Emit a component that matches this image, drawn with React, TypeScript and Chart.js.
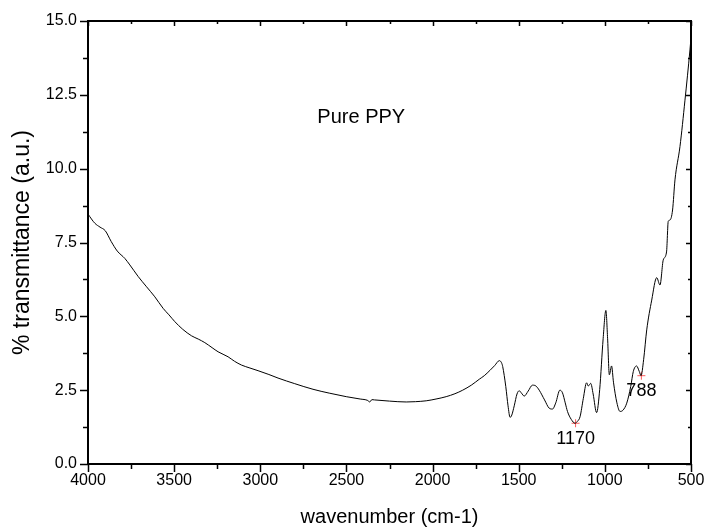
import React, { useEffect, useRef } from "react";
import { Chart, registerables } from "chart.js";

Chart.register(...registerables);

// Spectrum (wavenumber cm-1, % transmittance a.u.)
const wavenumbers = [
  4000, 3960, 3930, 3900, 3865, 3830, 3786, 3757, 3709, 3660, 3612, 3564, 3530, 3496, 3450, 3399, 3360,
  3322, 3280, 3245, 3187, 3150, 3109, 3060, 3013, 2950, 2897, 2800, 2694, 2600, 2501, 2420, 2376, 2365,
  2352, 2337, 2250, 2153, 2100, 2037, 1980, 1921, 1870, 1825, 1775, 1729, 1700, 1667, 1640, 1612, 1600,
  1593, 1575, 1562, 1550, 1540, 1526, 1510, 1497, 1484, 1468, 1445, 1420, 1400, 1381, 1350, 1323, 1304,
  1285, 1261, 1246, 1230, 1217, 1195, 1173, 1160, 1144, 1125, 1106, 1096, 1082, 1068, 1048, 1030, 1010,
  994, 984, 974, 961, 950, 930, 912, 895, 873, 850, 835, 816, 800, 790, 775, 757, 728, 699, 680, 661,
  642, 632, 622, 607, 593, 564, 535, 506, 500,
];
const transmittance = [
  8.46, 8.15, 8.02, 7.9, 7.53, 7.21, 6.96, 6.74, 6.35, 6.0, 5.66, 5.27, 5.05, 4.82, 4.56, 4.34, 4.23,
  4.11, 3.94, 3.8, 3.63, 3.48, 3.35, 3.25, 3.16, 3.03, 2.91, 2.72, 2.53, 2.4, 2.28, 2.2, 2.15, 2.1,
  2.18, 2.17, 2.13, 2.1, 2.11, 2.14, 2.2, 2.28, 2.38, 2.5, 2.67, 2.87, 2.99, 3.17, 3.33, 3.5, 3.43,
  3.3, 2.62, 1.97, 1.58, 1.66, 1.97, 2.37, 2.48, 2.4, 2.3, 2.47, 2.67, 2.64, 2.5, 2.17, 1.89, 1.86,
  2.07, 2.5, 2.41, 2.07, 1.78, 1.51, 1.38, 1.44, 1.6, 2.22, 2.75, 2.64, 2.73, 2.37, 1.74, 2.52, 4.24,
  5.2, 4.24, 3.02, 3.32, 2.77, 2.07, 1.78, 1.82, 2.06, 2.62, 3.13, 3.32, 3.13, 2.99, 3.53, 4.54, 5.55, 6.31,
  6.06, 6.91, 7.18, 8.22, 8.26, 8.6, 9.62, 10.75, 12.32, 14.02, 14.43,
];

// Marked peaks
const peakWavenumbers = [1170, 788];
const peakValues = [1.38, 2.99];
const peakLabels = ["1170", "788"];

const sampleLabel = "Pure PPY";
const sampleLabelPos = [2414, 11.72];

const xTickValues = [4000, 3500, 3000, 2500, 2000, 1500, 1000, 500];
const yTickValues = [0, 2.5, 5, 7.5, 10, 12.5, 15];

const FONT = "'Liberation Sans', Arial, sans-serif";

const framePlugin = {
  id: "frameTicks",
  afterDraw(chart: any) {
    const { ctx, chartArea } = chart;
    const { left, right, top, bottom } = chartArea;
    const xs = chart.scales.x;
    const ys = chart.scales.y;
    ctx.save();
    ctx.strokeStyle = "#000";
    ctx.lineWidth = 1.5;
    ctx.beginPath();
    for (let v = 500; v <= 4000; v += 250) {
      const px = Math.round(xs.getPixelForValue(v)) + 0.5;
      const major = v % 500 === 0;
      ctx.moveTo(px, bottom);
      ctx.lineTo(px, bottom + (major ? 8 : 5));
      ctx.moveTo(px, top);
      ctx.lineTo(px, top + (major ? 5 : 3));
    }
    for (let v = 0; v <= 15; v += 1.25) {
      const py = Math.round(ys.getPixelForValue(v)) + 0.5;
      const major = Math.abs(v / 2.5 - Math.round(v / 2.5)) < 1e-6;
      ctx.moveTo(left, py);
      ctx.lineTo(left - (major ? 8 : 5), py);
      ctx.moveTo(right, py);
      ctx.lineTo(right - (major ? 5 : 3), py);
    }
    ctx.stroke();
    ctx.lineWidth = 2;
    ctx.strokeRect(left, top, right - left, bottom - top);

    ctx.fillStyle = "#000";
    ctx.textAlign = "center";
    ctx.textBaseline = "middle";
    ctx.font = `20px ${FONT}`;
    ctx.fillText(sampleLabel, xs.getPixelForValue(sampleLabelPos[0]), ys.getPixelForValue(sampleLabelPos[1]));
    ctx.font = `18px ${FONT}`;
    const offsets = [16, 15];
    peakWavenumbers.forEach((w, i) => {
      ctx.fillText(peakLabels[i], xs.getPixelForValue(w), ys.getPixelForValue(peakValues[i]) + offsets[i]);
    });
    ctx.restore();
  },
};

export default function App() {
  const ref = useRef<HTMLCanvasElement | null>(null);
  useEffect(() => {
    if (!ref.current) return;
    Chart.defaults.color = "#000";
    Chart.defaults.font.family = FONT;
    const chart = new Chart(ref.current, {
      type: "line",
      data: {
        datasets: [
          {
            data: wavenumbers.map((w, i) => ({ x: w, y: transmittance[i] })),
            borderColor: "#000",
            borderWidth: 1,
            pointRadius: 0,
            cubicInterpolationMode: "monotone",
            fill: false,
          },
          {
            data: peakWavenumbers.map((w, i) => ({ x: w, y: peakValues[i] })),
            showLine: false,
            pointStyle: "cross",
            pointRadius: 4,
            borderColor: "rgb(255,90,90)",
            borderWidth: 1,
          },
        ],
      },
      options: {
        animation: false,
        responsive: false,
        devicePixelRatio: 1,
        layout: { padding: { left: 0, right: 15, top: 21, bottom: 0 } },
        plugins: { legend: { display: false }, tooltip: { enabled: false } },
        scales: {
          x: {
            type: "linear",
            reverse: true,
            min: 500,
            max: 4000,
            afterFit: (s: any) => {
              s.height = 65;
              s.paddingLeft = 0;
              s.paddingRight = 0;
            },
            afterBuildTicks: (s: any) => {
              s.ticks = xTickValues.map((v) => ({ value: v }));
            },
            ticks: { font: { size: 16 }, padding: 7, maxRotation: 0, autoSkip: false, callback: (v: any) => String(v) },
            grid: { display: false, drawTicks: false },
            border: { display: false },
            title: { display: true, text: "wavenumber (cm-1)", font: { size: 20 }, padding: { top: 0, bottom: 0 } },
          },
          y: {
            type: "linear",
            min: 0,
            max: 15,
            afterFit: (s: any) => {
              s.width = 88;
              s.paddingTop = 0;
              s.paddingBottom = 0;
            },
            afterBuildTicks: (s: any) => {
              s.ticks = yTickValues.map((v) => ({ value: v }));
            },
            ticks: { font: { size: 16 }, padding: 11, callback: (v: any) => Number(v).toFixed(1) },
            grid: { display: false, drawTicks: false },
            border: { display: false },
            title: { display: true, text: "% transmittance (a.u.)", font: { size: 23 }, padding: { top: 9, bottom: 0 } },
          },
        },
      },
      plugins: [framePlugin],
    } as any);
    return () => chart.destroy();
  }, []);
  return (
    <canvas
      ref={ref}
      width={706}
      height={529}
      style={{ position: "fixed", left: 0, top: 0, width: 706, height: 529, background: "#fff" }}
    />
  );
}
